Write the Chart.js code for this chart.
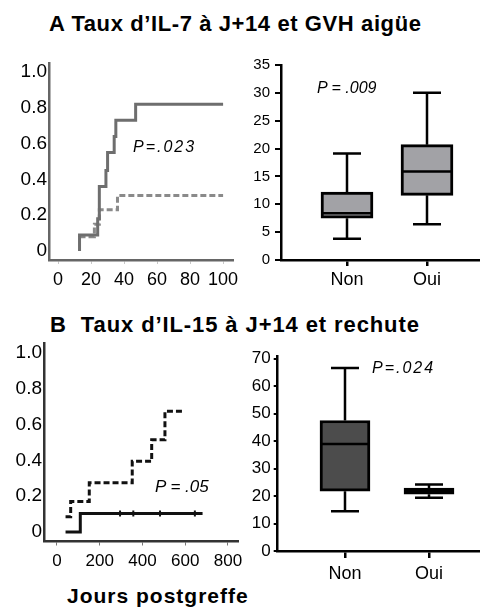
<!DOCTYPE html>
<html lang="fr">
<head>
<meta charset="utf-8">
<title>Taux d'IL-7 et d'IL-15 à J+14</title>
<script src="https://cdn.jsdelivr.net/npm/chart.js@4/dist/chart.umd.min.js"></script>
<style>
  html, body { margin: 0; padding: 0; background: #fff; }
  body { width: 480px; height: 608px; position: relative; overflow: hidden;
         font-family: "Liberation Sans", Arial, sans-serif; color: #000; }
  canvas { position: absolute; }
  .txt { position: absolute; white-space: nowrap; }
  .title { font-size: 22px; font-weight: bold; line-height: 22px; }
  .pval { font-style: italic; font-size: 16px; line-height: 16px; }
</style>
</head>
<body>
<div class="txt title" style="left:49px; top:13px; letter-spacing:0.6px;">A Taux d’IL-7 à J+14 et GVH aigüe</div>
<div class="txt title" style="left:50px; top:314px; letter-spacing:0.9px;">B&nbsp; Taux d’IL-15 à J+14 et rechute</div>
<div class="txt title" style="left:67px; top:585px; font-size:21px; line-height:21px; letter-spacing:1px;">Jours postgreffe</div>

<canvas id="kmGvh" width="240" height="240" style="left:0; top:55px;"></canvas>
<canvas id="boxGvh" width="240" height="250" style="left:240px; top:55px;"></canvas>
<canvas id="kmRelapse" width="245" height="240" style="left:0; top:335px;"></canvas>
<canvas id="boxRelapse" width="235" height="250" style="left:245px; top:345px;"></canvas>

<div class="txt pval" style="left:133px; top:139px; letter-spacing:2px;">P=.023</div>
<div class="txt pval" style="left:317px; top:80px;">P = .009</div>
<div class="txt pval" style="left:155px; top:478px; font-size:17px; line-height:17px;">P = .05</div>
<div class="txt pval" style="left:372px; top:360px; letter-spacing:2px;">P=.024</div>

<script>
"use strict";

// ---- Panel A: GVH aiguë (incidence cumulée) ----
const gvhHighX = [13, 13, 24, 25, 29, 30, 34, 35, 47, 100];
const gvhHighY = [0, 0.09, 0.18, 0.36, 0.45, 0.55, 0.64, 0.73, 0.82, 0.82];
const gvhLowX = [13, 22, 25, 36, 100];
const gvhLowY = [0.08, 0.15, 0.23, 0.31, 0.31];
const gvhXTicks = [0, 20, 40, 60, 80, 100];
const probTicks = [0, 0.2, 0.4, 0.6, 0.8, 1.0];

// ---- Panel A: IL-7 par groupe GVH ----
const groupLabels = ["Non", "Oui"];
const il7Min = [3.8, 6.4];
const il7Q1 = [7.5, 11.6];
const il7Median = [8.4, 15.9];
const il7Q3 = [12.2, 20.7];
const il7Max = [19.1, 30];
const il7Ticks = [0, 5, 10, 15, 20, 25, 30, 35];

// ---- Panel B: rechute (incidence cumulée) ----
const relapseHighX = [40, 64, 151, 352, 443, 505, 594];
const relapseHighY = [0.085, 0.17, 0.275, 0.395, 0.515, 0.675, 0.675];
const relapseLowX = [40, 109, 681];
const relapseLowY = [0, 0.104, 0.104];
const relapseCensorX = [295, 357, 482, 645];
const relapseCensorY = [0.104, 0.104, 0.104, 0.104];
const daysTicks = [0, 200, 400, 600, 800];

// ---- Panel B: IL-15 par groupe rechute ----
const il15Min = [14.5, 19.4];
const il15Q1 = [21.8, 20.7];
const il15Median = [39, 21.9];
const il15Q3 = [47.5, 22.9];
const il15Max = [66.6, 24.2];
const il15Ticks = [0, 10, 20, 30, 40, 50, 60, 70];

const FONT = '"Liberation Sans", Arial, sans-serif';
Chart.defaults.font.family = FONT;
Chart.defaults.color = "#000";
Chart.defaults.animation = false;

/** Zip two arrays into {x, y} points */
function toPoints(xs, ys) {
  return xs.map((x, i) => ({ x, y: ys[i] }));
}

/** Fix ticks to a list of values */
function fixedTicks(values) {
  return (scale) => {
    scale.ticks = values.map((v) => ({ value: v }));
  };
}

/** Force the size of an axis and drop the automatic label overhang */
function fixedSize(prop, px) {
  return (scale) => {
    scale[prop] = px;
    scale.paddingLeft = 0;
    scale.paddingRight = 0;
    scale.paddingTop = 0;
    scale.paddingBottom = 0;
  };
}

/**
 * Whiskers + median for the floating-bar box plots
 */
const whiskerPlugin = {
  id: "whiskers",
  afterDatasetsDraw(chart, args, opts) {
    const ctx = chart.ctx;
    const y = chart.scales.y;
    const meta = chart.getDatasetMeta(0);
    ctx.save();
    ctx.strokeStyle = "#000";
    ctx.lineWidth = opts.lineWidth || 2.5;
    ctx.lineCap = "butt";
    meta.data.forEach((bar, i) => {
      const cx = bar.x;
      const half = bar.width / 2;
      const cap = opts.capWidth / 2;
      const pMin = y.getPixelForValue(opts.min[i]);
      const pMax = y.getPixelForValue(opts.max[i]);
      const pQ1 = y.getPixelForValue(opts.q1[i]);
      const pQ3 = y.getPixelForValue(opts.q3[i]);
      const pMed = y.getPixelForValue(opts.median[i]);
      ctx.beginPath();
      ctx.moveTo(cx, pQ3);
      ctx.lineTo(cx, pMax);
      ctx.moveTo(cx - cap, pMax);
      ctx.lineTo(cx + cap, pMax);
      ctx.moveTo(cx, pQ1);
      ctx.lineTo(cx, pMin);
      ctx.moveTo(cx - cap, pMin);
      ctx.lineTo(cx + cap, pMin);
      ctx.stroke();
      ctx.beginPath();
      ctx.strokeStyle = opts.medianColor || "#000";
      ctx.moveTo(cx - half + 1.5, pMed);
      ctx.lineTo(cx + half - 1.5, pMed);
      ctx.stroke();
      ctx.strokeStyle = "#000";
    });
    ctx.restore();
  },
};

/**
 * Cumulative incidence step chart
 */
function makeStepChart(id, cfg) {
  const datasets = [
    {
      data: toPoints(cfg.highX, cfg.highY),
      stepped: true,
      borderColor: cfg.highColor,
      borderWidth: 3,
      borderDash: cfg.highDash,
      pointRadius: 0,
      fill: false,
    },
    {
      data: toPoints(cfg.lowX, cfg.lowY),
      stepped: true,
      borderColor: cfg.lowColor,
      borderWidth: 3,
      borderDash: cfg.lowDash,
      pointRadius: 0,
      fill: false,
    },
  ];
  if (cfg.censorX) {
    datasets.push({
      data: toPoints(cfg.censorX, cfg.censorY),
      showLine: false,
      pointStyle: "line",
      rotation: 90,
      pointRadius: 3,
      borderWidth: 2,
      borderColor: cfg.lowColor,
    });
  }
  return new Chart(document.getElementById(id), {
    type: "line",
    data: { datasets },
    options: {
      responsive: false,
      layout: { padding: { top: cfg.padTop, right: cfg.padRight, left: 0, bottom: 0 } },
      plugins: { legend: { display: false }, tooltip: { enabled: false } },
      scales: {
        x: {
          type: "linear",
          min: cfg.xMin,
          max: cfg.xMax,
          afterBuildTicks: fixedTicks(cfg.xTicks),
          afterFit: fixedSize("height", cfg.xHeight),
          ticks: { font: { size: cfg.xFont }, padding: cfg.xPad, maxRotation: 0, autoSkip: false },
          grid: { drawOnChartArea: false, tickLength: 4, color: cfg.tickColor },
          border: { color: cfg.axisColor, width: 2.5 },
        },
        y: {
          min: cfg.yMin,
          max: cfg.yMax,
          afterBuildTicks: fixedTicks(probTicks),
          afterFit: fixedSize("width", cfg.yWidth),
          ticks: {
            font: { size: 19 },
            padding: 2,
            callback: (v) => (v === 0 ? "0" : v.toFixed(1)),
          },
          grid: { drawOnChartArea: false, drawTicks: false },
          border: { color: cfg.axisColor, width: 2.5 },
        },
      },
    },
  });
}

/**
 * Box plot: floating bars for the box, plugin for whiskers and median
 */
function makeBoxChart(id, cfg) {
  return new Chart(document.getElementById(id), {
    type: "bar",
    data: {
      datasets: [
        {
          data: groupLabels.map((g, i) => ({ x: i + 1, y: [cfg.q1[i], cfg.q3[i]] })),
          backgroundColor: cfg.fill,
          borderColor: "#000",
          borderWidth: 3,
          borderSkipped: false,
          barThickness: cfg.barWidth,
        },
      ],
    },
    options: {
      responsive: false,
      layout: { padding: { top: cfg.padTop, right: 0, left: 0, bottom: 0 } },
      plugins: {
        legend: { display: false },
        tooltip: { enabled: false },
        whiskers: {
          min: cfg.min,
          max: cfg.max,
          q1: cfg.q1,
          q3: cfg.q3,
          median: cfg.median,
          capWidth: 28,
          medianColor: cfg.medianColor,
        },
      },
      scales: {
        x: {
          type: "linear",
          offset: false,
          min: cfg.xMin,
          max: cfg.xMax,
          afterBuildTicks: fixedTicks([1, 2]),
          afterFit: fixedSize("height", cfg.xHeight),
          ticks: {
            font: { size: 18 },
            padding: cfg.xPad,
            callback: (v) => groupLabels[v - 1],
          },
          grid: { drawOnChartArea: false, offset: false, tickLength: cfg.xTick, color: "#000", lineWidth: 2.5 },
          border: { color: "#000", width: 2.5 },
        },
        y: {
          min: 0,
          max: cfg.yMax,
          afterBuildTicks: fixedTicks(cfg.yTicks),
          afterFit: fixedSize("width", cfg.yWidth),
          ticks: { font: { size: cfg.yFont }, padding: cfg.yPad },
          grid: { drawOnChartArea: false, tickLength: cfg.yTick, color: "#000", lineWidth: 2 },
          border: { color: "#000", width: 2.5 },
        },
      },
    },
    plugins: [whiskerPlugin],
  });
}

makeStepChart("kmGvh", {
  highX: gvhHighX, highY: gvhHighY, lowX: gvhLowX, lowY: gvhLowY,
  highColor: "#6e6e6e", highDash: [],
  lowColor: "#8a8a8a", lowDash: [6, 3],
  axisColor: "#666", tickColor: "#c8c8c8",
  xMin: -5.5, xMax: 106, xTicks: gvhXTicks, xFont: 18, xPad: 5, xHeight: 35,
  yMin: -0.05, yMax: 1.05, yWidth: 49,
  padTop: 8, padRight: 7,
});

makeBoxChart("boxGvh", {
  min: il7Min, q1: il7Q1, median: il7Median, q3: il7Q3, max: il7Max,
  fill: "#a2a2a6", barWidth: 52,
  xMin: 0.175, xMax: 2.6625, xHeight: 45, xPad: 3, xTick: 6,
  yMax: 35, yTicks: il7Ticks, yWidth: 41, yFont: 15, yPad: 5, yTick: 6,
  padTop: 10,
});

makeStepChart("kmRelapse", {
  highX: relapseHighX, highY: relapseHighY, lowX: relapseLowX, lowY: relapseLowY,
  censorX: relapseCensorX, censorY: relapseCensorY,
  highColor: "#111", highDash: [6, 3],
  lowColor: "#111", lowDash: [],
  axisColor: "#333", tickColor: "#777",
  xMin: -60.8, xMax: 846.8, xTicks: daysTicks, xFont: 17, xPad: 6, xHeight: 33.5,
  yMin: -0.053, yMax: 1.056, yWidth: 44,
  padTop: 8, padRight: 7,
});

makeBoxChart("boxRelapse", {
  min: il15Min, q1: il15Q1, median: il15Median, q3: il15Q3, max: il15Max,
  fill: "#4c4c4c", barWidth: 50, medianColor: "#000",
  xMin: 0.199, xMax: 2.607, xHeight: 44, xPad: 5, xTick: 7,
  yMax: 71, yTicks: il15Ticks, yWidth: 32.7, yFont: 17, yPad: 3, yTick: 4,
  padTop: 11,
});
</script>
</body>
</html>
